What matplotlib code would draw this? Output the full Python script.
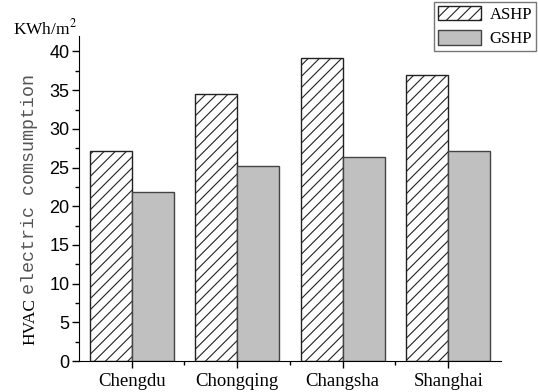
import numpy as np
import matplotlib
matplotlib.use('Agg')
import matplotlib.pyplot as plt
from matplotlib.ticker import MultipleLocator

plt.rcParams['mathtext.fontset'] = 'stix'
plt.rcParams['hatch.linewidth'] = 0.8

# data
cities = ['Chengdu', 'Chongqing', 'Changsha', 'Shanghai']
ashp = [27.1, 34.5, 39.1, 37.0]
gshp = [21.9, 25.2, 26.4, 27.1]

serif = 'Liberation Serif'
sans = 'Liberation Sans'
mono = 'Liberation Mono'

fig = plt.figure(figsize=(5.38, 3.92), dpi=100)
ax = fig.add_axes([79/538, 1-361/392, (501-79)/538, (361-36)/392])

x = np.arange(1, len(cities) + 1)
w = 0.4
b1 = ax.bar(x - w/2, ashp, w, color='white', edgecolor='#222222', hatch='///',
            linewidth=1.0, label='ASHP')
b2 = ax.bar(x + w/2, gshp, w, color='#c0c0c0', edgecolor='#444444',
            linewidth=1.0, label='GSHP')

ax.set_xlim(0.5, 4.5)
ax.set_ylim(0, 42)
ax.spines['top'].set_visible(False)
ax.spines['right'].set_visible(False)
ax.yaxis.set_major_locator(MultipleLocator(5))
ax.yaxis.set_minor_locator(MultipleLocator(2.5))
ax.set_xticks(x)
ax.set_xticks(np.arange(1.5, 4.5, 1), minor=True)
ax.set_xticklabels(cities, fontfamily=serif, fontsize=13.5)
for lab in ax.get_yticklabels():
    lab.set_fontfamily(sans)
    lab.set_fontsize(13)
ax.tick_params(which='major', direction='out', length=5, width=1)
ax.tick_params(which='minor', direction='out', length=3, width=1)
ax.tick_params(axis='x', pad=4)
ax.tick_params(axis='y', pad=2)

# units label
fig.text(13/538, 1-34/392, 'KWh/m$^{2}$', fontfamily=serif, fontsize=12.5,
         ha='left', va='baseline')

# y label with mixed fonts
fig.canvas.draw()
r = fig.canvas.get_renderer()
t1 = fig.text(30/538, 1-345/392, 'HVAC', fontfamily=serif, fontsize=12.5,
              rotation=90, ha='center', va='bottom')
bb = t1.get_window_extent(r)
fig.text(30/538, (bb.y1 + 4)/392, 'electric comsumption', fontfamily=mono,
         fontsize=13.2, rotation=90, ha='center', va='bottom', color='#555555')

leg = fig.legend(loc='upper right', bbox_to_anchor=(1.0, 1.0), prop={'family': serif, 'size': 12},
                 frameon=True, fancybox=False, edgecolor='#555555',
                 handlelength=2.6, handleheight=0.95, handletextpad=0.5,
                 borderpad=0.25, labelspacing=0.45, borderaxespad=0.1)
leg.get_frame().set_linewidth(1.0)

fig.savefig('out.png', dpi=100, facecolor='white')
